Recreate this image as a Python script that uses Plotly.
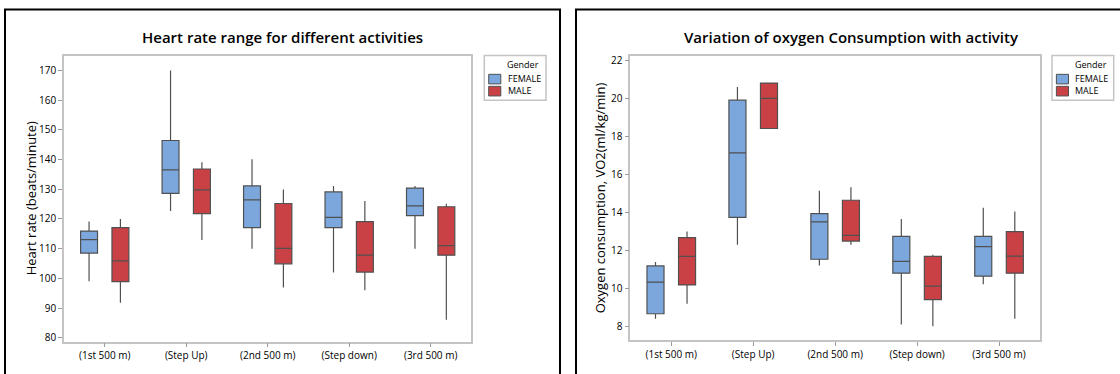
import plotly.graph_objects as go

activities = ["(1st 500 m)", "(Step Up)", "(2nd 500 m)", "(Step down)", "(3rd 500 m)"]
genders = ["FEMALE", "MALE"]

# Heart rate (beats/minute): five-number summaries per activity
hr_female_low = [99, 122.7, 110, 102, 110]
hr_female_q1 = [108.5, 128.6, 117.1, 117.1, 121.1]
hr_female_med = [113, 136.5, 126.4, 120.5, 124.4]
hr_female_q3 = [115.9, 146.4, 131.1, 129.1, 130.4]
hr_female_high = [119.1, 170, 140.1, 131.1, 131.1]

hr_male_low = [91.8, 112.9, 96.9, 96, 86.1]
hr_male_q1 = [98.9, 121.8, 104.9, 102.1, 107.8]
hr_male_med = [105.9, 129.8, 110.1, 107.8, 111]
hr_male_q3 = [117.1, 136.8, 125.2, 119.1, 124.1]
hr_male_high = [120, 139.1, 129.9, 126, 125.1]

# Oxygen consumption VO2 (ml/kg/min)
vo_female_low = [8.40, 12.29, 11.20, 8.09, 10.21]
vo_female_q1 = [8.66, 13.74, 11.53, 10.80, 10.64]
vo_female_med = [10.33, 17.13, 13.50, 11.42, 12.20]
vo_female_q3 = [11.18, 19.91, 13.93, 12.74, 12.74]
vo_female_high = [11.39, 20.60, 15.14, 13.65, 14.24]

vo_male_low = [9.19, 18.42, 12.29, 8.00, 8.40]
vo_male_q1 = [10.18, 18.42, 12.49, 9.40, 10.80]
vo_male_med = [11.68, 20.01, 12.79, 10.11, 11.70]
vo_male_q3 = [12.67, 20.81, 14.64, 11.68, 12.99]
vo_male_high = [12.99, 20.81, 15.33, 11.77, 14.05]

titles = ["Heart rate range for different activities",
          "Variation of oxygen Consumption with activity"]
ytitles = ["Heart rate (beats/minute)", "Oxygen consumption, VO2(ml/kg/min)"]
legend_title = "Gender"
hr_ticks = [80, 90, 100, 110, 120, 130, 140, 150, 160, 170]
vo_ticks = [8, 10, 12, 14, 16, 18, 20, 22]

fill_colors = {"FEMALE": "#7ba7dd", "MALE": "#c94144"}
FONT = "Open Sans"
W, H = 1120, 374

fig = go.Figure()

def add_boxes(xa, ya, group, data):
    for g, (low, q1, med, q3, high) in zip(genders, data):
        fig.add_trace(go.Box(
            x=activities, lowerfence=low, q1=q1, median=med, q3=q3, upperfence=high,
            name=g, xaxis=xa, yaxis=ya, showlegend=False,
            offsetgroup=g, alignmentgroup=group,
            fillcolor=fill_colors[g],
            line=dict(color="#505050", width=1.2),
            whiskerwidth=0, boxpoints=False, hoverinfo="skip",
        ))

add_boxes("x", "y", "hr", [
    (hr_female_low, hr_female_q1, hr_female_med, hr_female_q3, hr_female_high),
    (hr_male_low, hr_male_q1, hr_male_med, hr_male_q3, hr_male_high),
])
add_boxes("x2", "y2", "vo", [
    (vo_female_low, vo_female_q1, vo_female_med, vo_female_q3, vo_female_high),
    (vo_male_low, vo_male_q1, vo_male_med, vo_male_q3, vo_male_high),
])

axis_common = dict(
    showline=True, linecolor="#c4c4c4", linewidth=1.5, mirror=True,
    ticks="outside", ticklen=4, tickcolor="#9a9a9a", tickwidth=1,
    showgrid=False, zeroline=False,
    tickfont=dict(family=FONT, size=10, color="#000000", weight=500),
)

def px_x(p):
    return p / W

def px_y(p):
    return 1 - p / H

annotations = [
    dict(text=titles[0], x=px_x(282), y=px_y(34.3),
         font=dict(family=FONT, size=15, color="#000000", weight=600)),
    dict(text=titles[1], x=px_x(851.3), y=px_y(34.3),
         font=dict(family=FONT, size=15, color="#000000", weight=600)),
    dict(text=ytitles[0], x=px_x(30.7), y=px_y(198.3), textangle=-90,
         font=dict(family=FONT, size=13, color="#000000", weight=500)),
    dict(text=ytitles[1], x=px_x(599.5), y=px_y(197.5), textangle=-90,
         font=dict(family=FONT, size=13, color="#000000", weight=500)),
]
shapes = [
    dict(type="rect", x0=px_x(5), x1=px_x(560), y0=-0.2, y1=px_y(6.5),
         line=dict(color="black", width=2), layer="above"),
    dict(type="rect", x0=px_x(576), x1=1.2, y0=-0.2, y1=px_y(6.5),
         line=dict(color="black", width=2), layer="above"),
]

# legend boxes (one per panel), Minitab style
for lx in (484.3, 1052.0):
    shapes.append(dict(type="rect", x0=px_x(lx), x1=px_x(lx + 61.7),
                       y0=px_y(98.5), y1=px_y(53.3),
                       line=dict(color="#c4c4c4", width=1.5), fillcolor="white"))
    annotations.append(dict(text=legend_title, x=px_x(lx + 39), y=px_y(62),
                            font=dict(family=FONT, size=9, color="#000000", weight=500)))
    for i, g in enumerate(genders):
        top = 72.3 + 12.2 * i
        shapes.append(dict(type="rect", x0=px_x(lx + 4.4), x1=px_x(lx + 16.5),
                           y0=px_y(top + 9.7), y1=px_y(top),
                           line=dict(color="#505050", width=1), fillcolor=fill_colors[g]))
        annotations.append(dict(text=g, x=px_x(lx + 21.3), y=px_y(top + 4.3),
                                xanchor="left",
                                font=dict(family=FONT, size=9, color="#000000", weight=500)))

for a in annotations:
    a.setdefault("xref", "paper")
    a.setdefault("yref", "paper")
    a.setdefault("xanchor", "center")
    a.setdefault("yanchor", "middle")
    a.setdefault("showarrow", False)
for s in shapes:
    s.setdefault("xref", "paper")
    s.setdefault("yref", "paper")

fig.update_layout(
    width=W, height=H,
    margin=dict(l=0, r=0, t=0, b=0),
    paper_bgcolor="white", plot_bgcolor="white",
    showlegend=False,
    boxmode="group", boxgap=0.23, boxgroupgap=0.46,
    xaxis=dict(domain=[px_x(64), px_x(471.4)], anchor="y", range=[-0.5, 4.5], **axis_common),
    yaxis=dict(domain=[px_y(343.3), px_y(53.3)], anchor="x", range=[78.67, 174.98],
               tickvals=hr_ticks, **axis_common),
    xaxis2=dict(domain=[px_x(630.3), px_x(1040)], anchor="y2", range=[-0.5, 4.5], **axis_common),
    yaxis2=dict(domain=[px_y(341.7), px_y(53.3)], anchor="x2", range=[7.27, 22.26],
                tickvals=vo_ticks, **axis_common),
    annotations=annotations,
    shapes=shapes,
)

fig.write_html("out.html", config={"displayModeBar": False},
               post_script="document.body.style.margin='0';document.body.style.overflow='hidden';")
